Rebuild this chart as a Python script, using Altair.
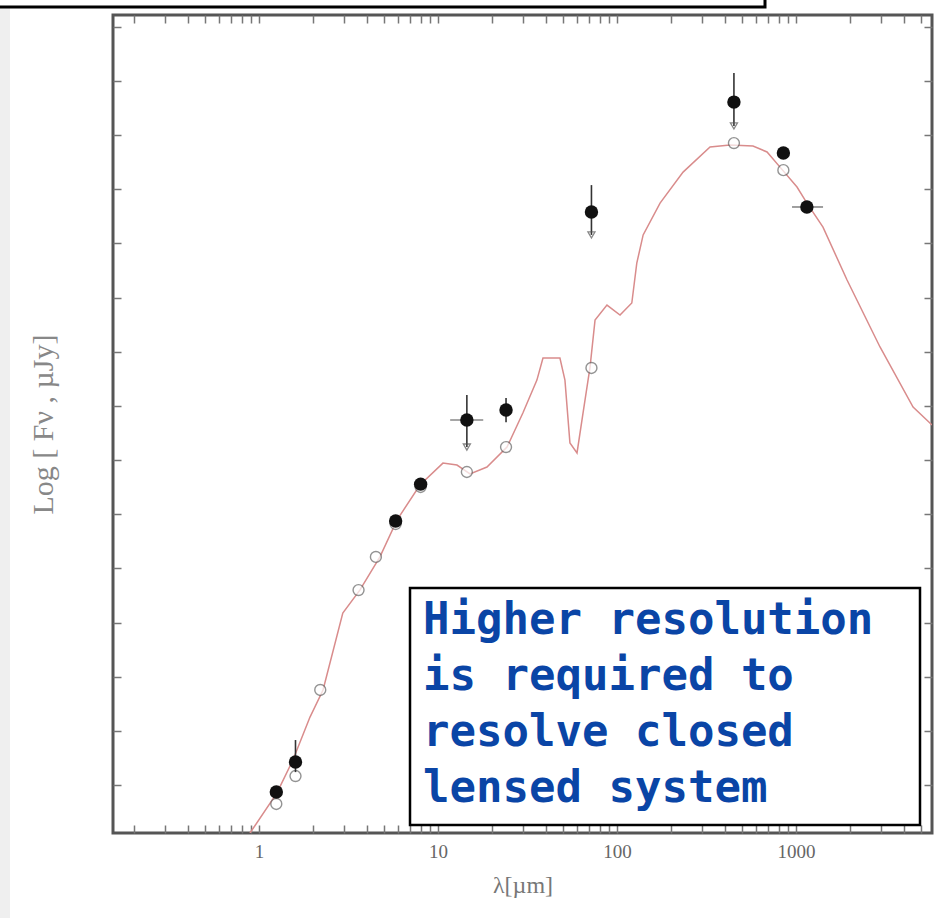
import altair as alt
import pandas as pd

# ---- observed photometry: wavelength (µm) and log flux density (µJy)
obs_lambda = [1.25, 1.6, 5.8, 8.0, 14.5, 24.0, 72.0, 450.0, 850.0, 1150.0]
obs_logf = [1.968, 2.107, 3.219, 3.389, 3.685, 3.731, 4.645, 5.152, 4.917, 4.668]

# upper limits: top of the bar and tip of the arrow
lim_lambda = [14.5, 72.0, 450.0]
lim_top = [3.800, 4.769, 5.286]
lim_tip = [3.560, 4.539, 5.042]

# vertical error bars on detections
err_lambda = [1.6, 24.0]
err_lo = [2.06, 3.675]
err_hi = [2.208, 3.786]

# horizontal (band width) bars
band_logf = [3.685, 4.668]
band_lo = [11.7, 950.0]
band_hi = [17.9, 1416.0]

# model photometry (open symbols)
mod_lambda = [1.25, 1.6, 2.2, 3.6, 4.5, 5.8, 8.0, 14.5, 24.0, 72.0, 450.0, 850.0, 1150.0]
mod_logf = [1.913, 2.042, 2.439, 2.900, 3.053, 3.205, 3.376, 3.445, 3.560, 3.925, 4.963, 4.838, 4.668]

# model SED
sed_lambda = [0.891, 1.261, 1.548, 1.928, 2.28, 2.94, 3.66, 4.74, 5.90, 7.93, 10.66, 12.77,
              15.1, 18.78, 24.3, 29.8, 35.7, 38.6, 48.0, 51.2, 54.6, 59.8, 64.6, 70.7, 75.4,
              87.9, 104, 121, 129, 140, 174, 234, 331, 428, 575, 689, 814, 1013, 1151, 1415,
              1928, 2946, 4508, 5754]
sed_logf = [1.779, 1.964, 2.116, 2.314, 2.439, 2.794, 2.900, 3.053, 3.223, 3.385, 3.486, 3.477,
            3.436, 3.468, 3.560, 3.717, 3.869, 3.971, 3.971, 3.869, 3.579, 3.533, 3.717, 3.929,
            4.146, 4.215, 4.169, 4.225, 4.409, 4.539, 4.686, 4.829, 4.945, 4.954, 4.949, 4.922,
            4.852, 4.760, 4.686, 4.575, 4.331, 4.022, 3.745, 3.662]

note_lines = ["Higher resolution", "is required to", "resolve closed", "lensed system"]

x_ticks = [m * 10 ** e if e >= 0 else round(m * 10 ** e, 3)
           for e in range(-1, 4) for m in range(1, 10)]
x_ticks = [v for v in x_ticks if 0.153 <= v <= 5750]
y_ticks = [2.0 + 0.25 * i for i in range(15)]

x_scale = alt.Scale(type="log", domain=[0.153, 5750], nice=False)
y_scale = alt.Scale(domain=[1.779, 5.554], nice=False, zero=False)

TICK = "#777777"
SERIF = "Liberation Serif"

x_bottom = alt.Axis(
    orient="bottom", values=x_ticks, offset=-8, tickSize=8, domain=False, grid=False,
    tickColor=TICK, tickWidth=1.5,
    labelExpr="(datum.value == 1 || datum.value == 10 || datum.value == 100 || datum.value == 1000) ? format(datum.value, 'd') : ''",
    labelFont=SERIF, labelFontSize=19, labelColor="#666666", labelPadding=9,
    title="λ[µm]", titleFont=SERIF, titleFontSize=24, titleFontWeight="normal",
    titleColor="#777777", titlePadding=12,
)
y_left = alt.Axis(
    orient="left", values=y_ticks, offset=-8, tickSize=8, domain=False, grid=False,
    tickColor=TICK, tickWidth=1.5, labels=False,
    title="Log [ Fν , µJy]", titleFont=SERIF, titleFontSize=30, titleFontWeight="normal",
    titleColor="#888888", titlePadding=54,
)
x_top = alt.Axis(orient="top", values=x_ticks, offset=-8, tickSize=8, domain=False,
                 grid=False, tickColor=TICK, tickWidth=1.5, labels=False, title=None)
y_right = alt.Axis(orient="right", values=y_ticks, offset=-8, tickSize=8, domain=False,
                   grid=False, tickColor=TICK, tickWidth=1.5, labels=False, title=None)

sed = pd.DataFrame({"lam": sed_lambda, "logf": sed_logf})
obs = pd.DataFrame({"lam": obs_lambda, "logf": obs_logf})
mod = pd.DataFrame({"lam": mod_lambda, "logf": mod_logf})
lim = pd.DataFrame({"lam": lim_lambda, "top": lim_top, "tip": lim_tip})
err = pd.DataFrame({"lam": err_lambda, "lo": err_lo, "hi": err_hi})
band = pd.DataFrame({"logf": band_logf, "lo": band_lo, "hi": band_hi})
one = pd.DataFrame({"k": [0]})

curve = alt.Chart(sed).mark_line(color="#d98c8c", strokeWidth=1.5, clip=True).encode(
    x=alt.X("lam:Q", scale=x_scale, axis=x_bottom),
    y=alt.Y("logf:Q", scale=y_scale, axis=y_left),
    order="lam:Q",
)
mirror = alt.Chart(sed).mark_line(opacity=0).encode(
    x=alt.X("lam:Q", scale=x_scale, axis=x_top),
    y=alt.Y("logf:Q", scale=y_scale, axis=y_right),
)

model_pts = alt.Chart(mod).mark_point(
    shape="circle", size=120, filled=True, fill="white", stroke="#666666", strokeWidth=1.4
).encode(
    x=alt.X("lam:Q", scale=x_scale, axis=None),
    y=alt.Y("logf:Q", scale=y_scale, axis=None),
)

limit_bars = alt.Chart(lim).mark_rule(color="#333333", strokeWidth=1.6).encode(
    x=alt.X("lam:Q", scale=x_scale, axis=None),
    y=alt.Y("top:Q", scale=y_scale, axis=None),
    y2="tip:Q",
)
limit_heads = alt.Chart(lim).mark_point(
    shape="triangle-down", size=50, filled=False, color="#555555", strokeWidth=1.3
).encode(
    x=alt.X("lam:Q", scale=x_scale, axis=None),
    y=alt.Y("tip:Q", scale=y_scale, axis=None),
)
err_bars = alt.Chart(err).mark_rule(color="#333333", strokeWidth=1.6).encode(
    x=alt.X("lam:Q", scale=x_scale, axis=None),
    y=alt.Y("lo:Q", scale=y_scale, axis=None),
    y2="hi:Q",
)
band_bars = alt.Chart(band).mark_rule(color="#888888", strokeWidth=1.6).encode(
    x=alt.X("lo:Q", scale=x_scale, axis=None),
    x2="hi:Q",
    y=alt.Y("logf:Q", scale=y_scale, axis=None),
)
obs_pts = alt.Chart(obs).mark_point(
    shape="circle", size=180, filled=True, color="#111111", opacity=1
).encode(
    x=alt.X("lam:Q", scale=x_scale, axis=None),
    y=alt.Y("logf:Q", scale=y_scale, axis=None),
)

# note box over the lower right of the plot
note_box = alt.Chart(one).mark_rect(fill="white", stroke="black", strokeWidth=2.5).encode(
    x=alt.value(297), x2=alt.value(807), y=alt.value(573), y2=alt.value(810)
)
note_text = alt.Chart(one).mark_text(
    text=note_lines, align="left", baseline="alphabetic", font="DejaVu Sans Mono",
    fontWeight="bold", fontSize=44, lineHeight=56, color="#0a45a6",
).encode(x=alt.value(310), y=alt.value(619))

# strip along the left edge and the caption frame along the top edge
strip = alt.Chart(one).mark_rect(fill="#efefef").encode(
    x=alt.value(-113), x2=alt.value(-103), y=alt.value(-15), y2=alt.value(903)
)
top_frame = alt.Chart(one).mark_rect(fill="white", stroke="black", strokeWidth=3).encode(
    x=alt.value(-125), x2=alt.value(652), y=alt.value(-60), y2=alt.value(-8)
)

chart = alt.layer(
    curve, mirror, model_pts, limit_bars, limit_heads, err_bars, band_bars, obs_pts,
    note_box, note_text, strip, top_frame,
).resolve_axis(x="independent", y="independent").properties(
    width=819, height=818,
    autosize=alt.AutoSizeParams(type="none"),
    padding={"left": 113, "top": 15, "right": 14, "bottom": 85},
).configure_view(stroke="#555555", strokeWidth=3)

chart.save("out.html", embed_options={"renderer": "svg", "actions": False})
